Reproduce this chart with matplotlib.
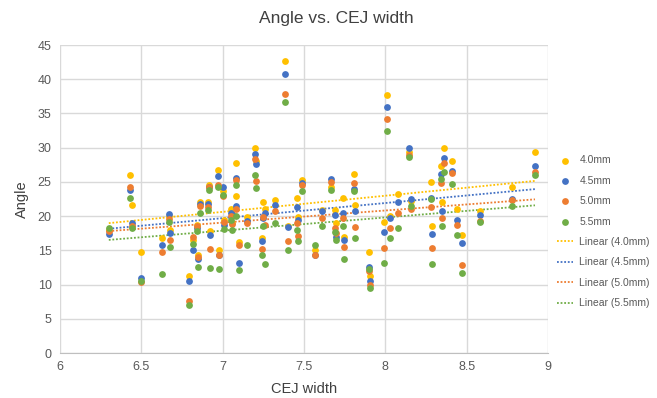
import numpy as np
import matplotlib.pyplot as plt

plt.rcParams['font.family'] = ['Liberation Sans', 'DejaVu Sans']

# CEJ width (x) and angle for each implant length
cej = [6.30, 6.43, 6.44, 6.50, 6.63, 6.67, 6.675, 6.79, 6.82, 6.845, 6.85, 6.86,
       6.91, 6.915, 6.92, 6.97, 6.975, 7.00, 7.01, 7.05, 7.06, 7.08, 7.085, 7.10,
       7.15, 7.20, 7.205, 7.24, 7.25, 7.26, 7.32, 7.386, 7.40, 7.46, 7.465, 7.49,
       7.57, 7.61, 7.665, 7.69, 7.695, 7.74, 7.745, 7.81, 7.815, 7.90, 7.905, 7.99,
       8.01, 8.03, 8.08, 8.145, 8.16, 8.28, 8.285, 8.34, 8.35, 8.36, 8.41, 8.44,
       8.47, 8.58, 8.78, 8.92]
a40 = [18.0, 26.0, 21.6, 14.7, 16.8, 20.0, 18.0, 11.2, 16.5, 18.7, 14.3, 22.0,
       22.0, 24.6, 17.8, 26.8, 15.0, 23.6, 19.5, 21.0, 19.0, 27.7, 22.9, 16.2,
       19.8, 30.0, 28.0, 16.8, 22.1, 21.0, 22.4, 42.7, 18.5, 22.6, 19.9, 25.3,
       15.0, 20.9, 24.3, 20.9, 19.0, 22.6, 17.0, 26.1, 21.6, 14.7, 11.3, 19.2,
       37.7, 20.0, 23.3, 29.4, 22.2, 25.0, 18.6, 27.3, 22.0, 29.9, 28.1, 21.0,
       17.2, 20.8, 24.2, 29.3]
a45 = [17.4, 23.8, 19.0, 10.9, 15.8, 20.3, 17.6, 10.5, 15.1, 18.2, 13.8, 21.7,
       21.8, 24.3, 17.2, 25.9, 14.3, 24.3, 18.7, 20.5, 20.3, 25.6, 21.5, 13.2,
       19.3, 29.1, 27.6, 16.4, 19.7, 20.5, 21.6, 40.8, 18.4, 21.3, 19.5, 24.8,
       14.3, 20.7, 25.4, 20.2, 17.0, 20.5, 16.5, 23.9, 20.8, 12.5, 10.5, 17.7,
       35.9, 19.7, 22.0, 29.9, 22.5, 22.6, 17.4, 26.1, 20.8, 28.5, 26.6, 19.5,
       16.0, 20.2, 22.5, 27.3]
a50 = [17.8, 24.3, 18.6, 10.4, 14.7, 19.6, 16.5, 7.6, 17.0, 18.5, 14.0, 21.5,
       21.3, 24.2, 15.2, 24.5, 14.3, 23.0, 19.2, 20.0, 18.8, 25.3, 21.0, 15.8,
       19.0, 28.3, 25.1, 15.2, 19.9, 18.7, 20.7, 37.8, 16.3, 19.0, 17.1, 24.6,
       14.3, 19.7, 25.0, 18.2, 17.5, 19.7, 15.5, 24.9, 18.4, 12.0, 9.9, 15.3,
       34.2, 18.2, 20.5, 29.0, 21.1, 21.4, 15.4, 24.8, 19.7, 27.8, 26.3, 18.7,
       12.8, 19.3, 22.3, 26.5]
a55 = [18.2, 22.6, 18.3, 10.5, 11.5, 19.1, 15.5, 7.0, 15.9, 17.8, 12.5, 20.5,
       20.9, 23.8, 12.4, 24.2, 12.2, 23.1, 18.1, 19.5, 18.0, 24.5, 20.0, 12.1,
       15.8, 26.0, 24.1, 14.3, 18.5, 13.0, 19.0, 36.7, 15.1, 18.0, 16.3, 23.6,
       15.8, 18.6, 23.8, 17.7, 16.5, 18.6, 13.7, 23.7, 16.8, 12.2, 9.5, 13.2,
       32.4, 16.8, 18.2, 28.7, 21.5, 22.5, 13.0, 25.4, 18.6, 26.5, 24.7, 17.3,
       11.7, 19.2, 21.5, 26.0]

names = ['4.0mm', '4.5mm', '5.0mm', '5.5mm']
colors = ['#FFC000', '#4472C4', '#ED7D31', '#70AD47']
series = [a40, a45, a50, a55]

fig = plt.figure(figsize=(6.57, 3.98), dpi=100)
ax = fig.add_axes([60/657, 45/398, 488/657, 308/398])

x = np.array(cej)
for ys, c, n in zip(series, colors, names):
    ax.scatter(x, ys, s=24, color=c, label=n, zorder=3, linewidths=0)

xs = np.array([x.min(), x.max()])
for ys, c, n in zip(series, colors, names):
    k, b = np.polyfit(x, ys, 1)
    ax.plot(xs, k*xs + b, linestyle=(0, (1, 1)), color=c, lw=1.3,
            label='Linear (%s)' % n, zorder=2)

ax.set_xlim(6, 9)
ax.set_ylim(0, 45)
ax.set_xticks(np.arange(6, 9.01, 0.5))
ax.set_xticklabels(['6', '6.5', '7', '7.5', '8', '8.5', '9'])
ax.set_yticks(np.arange(0, 46, 5))
ax.grid(True, color='#D9D9D9', lw=1.0)
ax.set_axisbelow(True)
for s in ['top', 'right', 'left']:
    ax.spines[s].set_visible(False)
ax.spines['bottom'].set_color('#BFBFBF')
ax.tick_params(length=0, labelsize=9, colors='#595959', pad=6)

fig.text(336/657, 1 - 18/398, 'Angle vs. CEJ width', fontsize=12.5,
         color='#404040', ha='center', va='center')
ax.set_xlabel('CEJ width', fontsize=10.5, color='#404040', labelpad=6)
ax.set_ylabel('Angle', fontsize=10.5, color='#404040', labelpad=6)

fig.legend(loc='upper left', bbox_to_anchor=(548/657, 1 - 146/398),
           frameon=False, fontsize=7.5, labelspacing=1.0, handlelength=1.5,
           handletextpad=0.6, labelcolor='#595959', scatterpoints=1)

fig.savefig('out.png', dpi=100)
